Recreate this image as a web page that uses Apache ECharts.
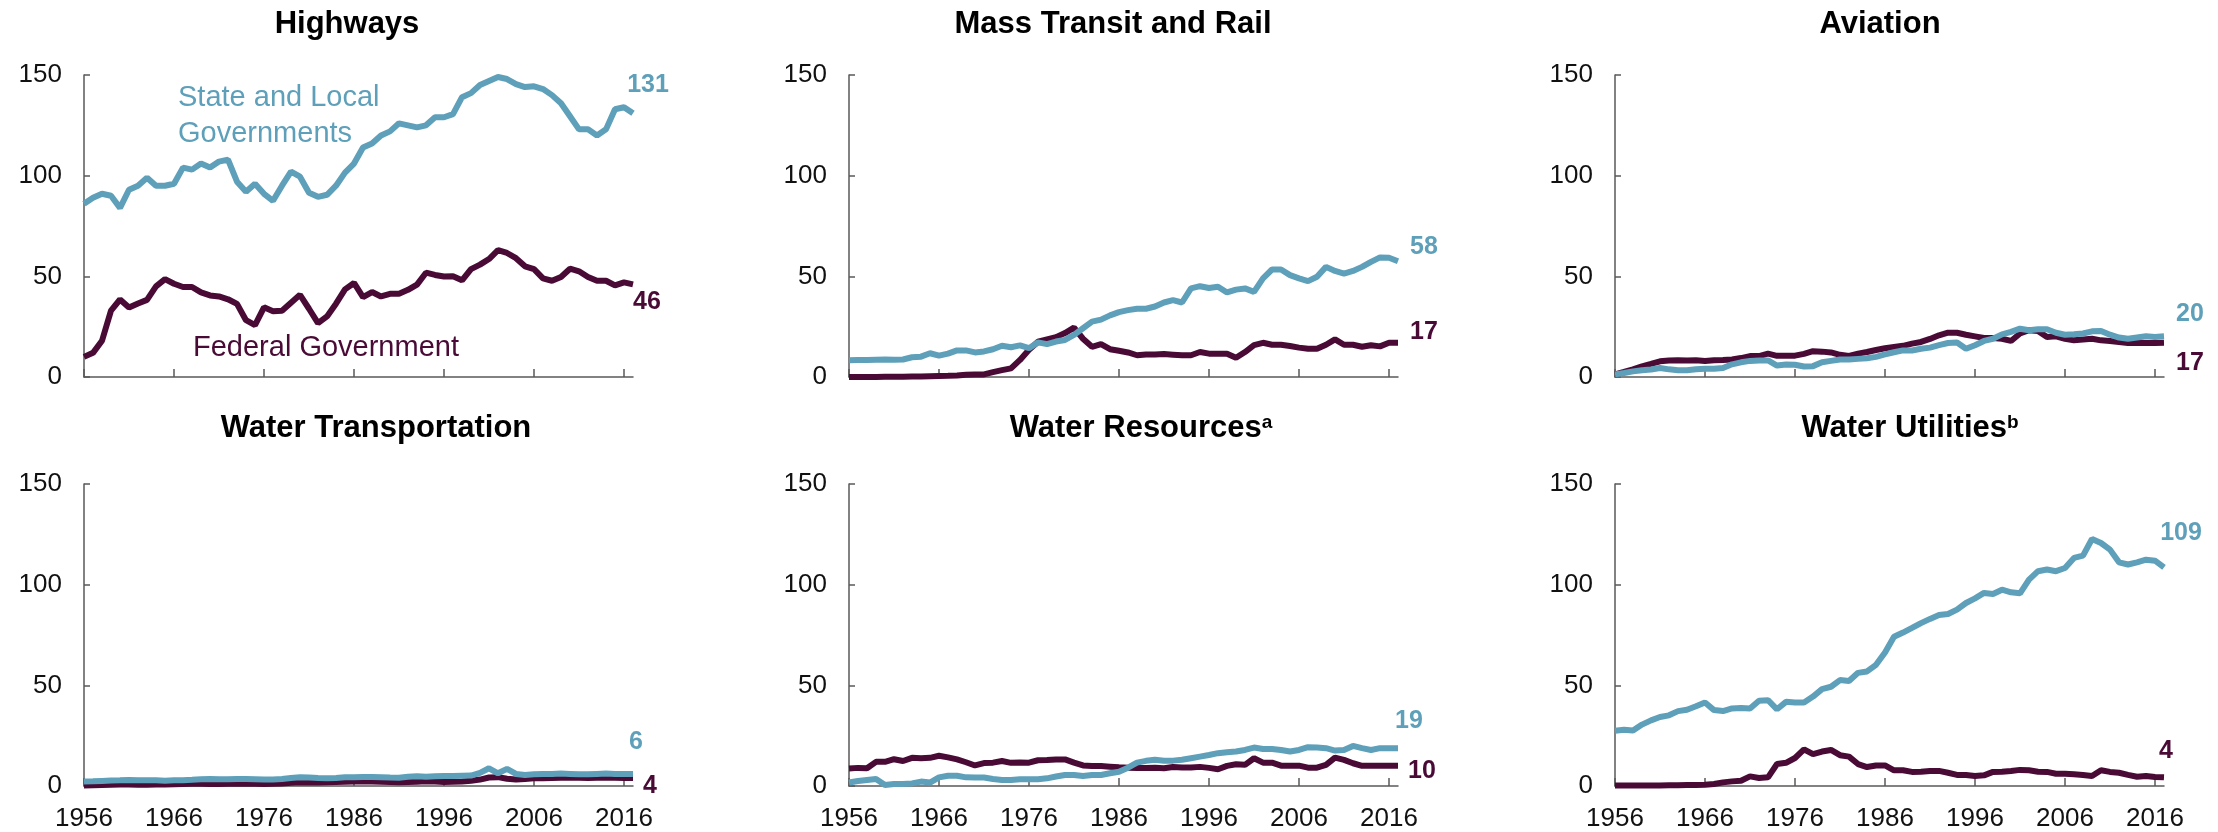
<!DOCTYPE html>
<html>
<head>
<meta charset="utf-8">
<script src="https://cdn.jsdelivr.net/npm/echarts@6/dist/echarts.min.js"></script>
<style>
html, body { margin: 0; padding: 0; background: #fff; }
#main { width: 2218px; height: 832px; }
</style>
</head>
<body>
<div id="main"></div>
<script>
// years on the x axis
var years = ['1956','1957','1958','1959','1960','1961','1962','1963','1964','1965',
             '1966','1967','1968','1969','1970','1971','1972','1973','1974','1975',
             '1976','1977','1978','1979','1980','1981','1982','1983','1984','1985',
             '1986','1987','1988','1989','1990','1991','1992','1993','1994','1995',
             '1996','1997','1998','1999','2000','2001','2002','2003','2004','2005',
             '2006','2007','2008','2009','2010','2011','2012','2013','2014','2015',
             '2016','2017'];
var yTicks = [0, 50, 100, 150];

var panelTitles = ['Highways', 'Mass Transit and Rail', 'Aviation',
                   'Water Transportation', 'Water Resources{sup|a}', 'Water Utilities{sup|b}'];

// Highways
var hwyState = [86, 89, 91, 90, 84, 93, 95, 99, 95, 95,
                96, 104, 103, 106, 104, 107, 108, 97, 92, 96,
                91, 87.5, 95, 102, 99.5, 91.5, 89.5, 90.5, 95, 101.5,
                106, 114, 116, 120, 122, 126, 125, 124, 125, 129,
                129, 130.6, 139, 141, 145, 147, 149, 148, 145.5, 144,
                144.4, 143, 140, 136, 129.5, 123, 123, 120, 123, 133,
                134, 131];
var hwyFed = [10, 12, 18, 33, 38.5, 34.5, 36.5, 38.3, 45, 48.6,
              46.3, 44.7, 44.7, 42, 40.5, 40, 38.6, 36.3, 28.2, 25.8,
              34.6, 32.7, 32.9, 36.9, 40.8, 33.9, 26.8, 30.1, 36.4, 43.5,
              46.7, 39.7, 42.2, 40, 41.3, 41.4, 43.3, 45.9, 51.8, 50.7,
              49.9, 50, 48, 53.6, 55.8, 58.6, 63, 61.6, 59, 55,
              53.6, 49, 47.8, 49.7, 53.8, 52.5, 49.7, 47.8, 47.8, 45.5,
              47, 46];

// Mass transit and rail
var transitState = [8.3, 8.4, 8.5, 8.6, 8.7, 8.6, 8.7, 9.8, 10.1, 11.8,
                    10.6, 11.6, 13.2, 13.2, 12.2, 12.7, 13.8, 15.5, 14.8, 15.7,
                    14.3, 17.2, 16.3, 17.6, 18.4, 20.9, 24.2, 27.5, 28.5, 30.6,
                    32.2, 33.2, 33.9, 33.9, 35, 37, 38.2, 37, 44, 45.1,
                    44.2, 44.8, 42, 43.4, 44, 42.3, 49, 53.4, 53.4, 50.6,
                    49, 47.6, 49.8, 54.7, 52.7, 51.4, 52.7, 54.7, 57.2, 59.4,
                    59.2, 57.5];
var transitFed = [0, 0, 0, 0, 0.1, 0.1, 0.1, 0.2, 0.3, 0.4,
                  0.5, 0.6, 0.8, 1.1, 1.3, 1.3, 2.4, 3.4, 4.3, 8.5,
                  13.5, 17.5, 18.7, 19.8, 21.8, 24.5, 19, 15, 16.3, 13.8,
                  13, 12.2, 10.8, 11.2, 11.2, 11.4, 11.1, 10.8, 10.8, 12.4,
                  11.6, 11.6, 11.6, 9.6, 12.4, 15.8, 17, 16, 16, 15.4,
                  14.6, 14, 14, 16, 18.7, 16, 16, 15, 15.8, 15.2,
                  17, 17];

// Aviation
var aviationState = [1.3, 2, 2.8, 3.4, 3.7, 4.5, 3.8, 3.4, 3.3, 3.8,
                     4.1, 4.1, 4.5, 6.3, 7.3, 8, 8.2, 8.2, 5.7, 6.2,
                     6.1, 5.2, 5.4, 7.3, 8, 8.7, 8.7, 9, 9.3, 10,
                     11.2, 12.3, 13.2, 13.2, 14, 14.6, 15.8, 16.9, 17.1, 14,
                     15.8, 17.9, 19, 21.2, 22.4, 24, 23.2, 23.7, 23.7, 22,
                     21, 21.2, 21.6, 22.7, 22.9, 21, 19.6, 19, 19.6, 20.2,
                     19.9, 20.2];
var aviationFed = [1.3, 2.5, 3.8, 5.3, 6.5, 7.8, 8.2, 8.3, 8.2, 8.3,
                   8, 8.3, 8.4, 8.7, 9.4, 10.4, 10.4, 11.6, 10.5, 10.5,
                   10.6, 11.5, 12.8, 12.6, 12.2, 11, 10.5, 11.6, 12.4, 13.4,
                   14.3, 14.9, 15.5, 16.6, 17.4, 18.9, 20.7, 22, 22, 21,
                   20.2, 19.4, 19.4, 19, 17.9, 21.6, 23.2, 22.9, 19.9, 20.2,
                   19, 18.2, 18.6, 19, 18.2, 17.9, 17.4, 16.9, 17, 16.9,
                   16.9, 17];

// Water transportation
var waterTransState = [2.2, 2.3, 2.5, 2.7, 2.8, 3.0, 2.9, 2.9, 2.8, 2.6,
                       2.8, 2.9, 3.1, 3.4, 3.5, 3.4, 3.4, 3.5, 3.5, 3.4,
                       3.2, 3.2, 3.5, 4.0, 4.3, 4.2, 4.0, 3.9, 4.0, 4.3,
                       4.4, 4.5, 4.5, 4.4, 4.2, 4.1, 4.6, 4.9, 4.6, 4.8,
                       5.0, 5.0, 5.1, 5.2, 6.5, 8.8, 6.3, 8.5, 6.0, 5.5,
                       5.8, 5.9, 6.0, 6.2, 6.0, 5.8, 5.8, 6.0, 6.2, 6.0,
                       6.0, 5.9];
var waterTransFed = [0.3, 0.4, 0.5, 0.6, 0.8, 0.7, 0.6, 0.6, 0.7, 0.8,
                     0.9, 1.0, 1.1, 1.1, 1.0, 1.0, 1.1, 1.2, 1.1, 1.1,
                     1.0, 1.1, 1.3, 1.6, 1.8, 1.9, 1.8, 1.9, 2.0, 2.1,
                     2.2, 2.2, 2.2, 2.1, 2.0, 1.9, 2.0, 2.1, 2.3, 2.2,
                     2.0, 2.1, 2.2, 2.6, 3.2, 4.2, 4.4, 3.6, 3.2, 3.5,
                     3.8, 3.9, 4.0, 4.1, 4.2, 4.1, 4.0, 4.1, 4.2, 4.1,
                     4.0, 4.0];

// Water resources
var waterResState = [1.7, 2.5, 3, 3.5, 0.5, 1, 1, 1.3, 2.2, 1.7,
                     4.3, 5.1, 5.1, 4.3, 4.2, 4.2, 3.5, 3, 3, 3.3,
                     3.3, 3.3, 3.8, 4.7, 5.5, 5.5, 5, 5.5, 5.5, 6.3,
                     7.1, 9.1, 11.6, 12.5, 13, 12.5, 12.6, 13, 13.8, 14.6,
                     15.4, 16.3, 16.8, 17.1, 17.9, 19.1, 18.4, 18.4, 17.9, 17.1,
                     17.9, 19.3, 19.1, 18.8, 17.6, 17.9, 19.9, 18.8, 17.9, 18.8,
                     18.8, 18.8];
var waterResFed = [8.7, 9, 8.8, 12, 12, 13.3, 12.4, 14, 13.8, 14,
                   15, 14.2, 13.2, 11.8, 10.2, 11.4, 11.6, 12.4, 11.5, 11.7,
                   11.6, 12.8, 12.9, 13.2, 13.2, 11.6, 10.2, 9.9, 9.9, 9.6,
                   9.3, 9.1, 9, 9, 9.1, 8.8, 9.4, 9.2, 9.2, 9.5,
                   9, 8.3, 10, 10.8, 10.5, 13.8, 11.6, 11.6, 10.1, 10.1,
                   10.1, 9.1, 9.1, 10.5, 14.1, 13, 11.3, 10, 10, 10,
                   10, 10];

// Water utilities
var waterUtilState = [27.4, 27.9, 27.6, 30.5, 32.6, 34.3, 35.1, 37.2, 37.9, 39.6,
                      41.5, 37.7, 37.2, 38.5, 38.7, 38.5, 42.3, 42.6, 38.1, 41.8,
                      41.5, 41.5, 44.4, 48.1, 49.3, 52.6, 52.2, 56.2, 56.9, 60.2,
                      66.3, 74.1, 76.2, 78.5, 80.9, 83, 84.9, 85.4, 87.6, 90.9,
                      93.2, 95.9, 95.4, 97.5, 96.2, 95.7, 102.5, 106.7, 107.5, 106.7,
                      108.3, 113.3, 114.4, 122.7, 120.7, 117.4, 111.1, 110, 111.1, 112.4,
                      111.9, 108.6];
var waterUtilFed = [0.2, 0.2, 0.3, 0.3, 0.3, 0.3, 0.4, 0.4, 0.5, 0.5,
                    0.6, 1.0, 1.8, 2.3, 2.6, 4.8, 4.0, 4.3, 10.9, 11.5,
                    13.9, 18.2, 15.8, 17.1, 17.9, 15.3, 14.6, 10.9, 9.4, 10.2,
                    10.2, 7.8, 7.8, 7, 7.1, 7.5, 7.5, 6.6, 5.5, 5.5,
                    5, 5.3, 7, 7.1, 7.5, 8, 7.8, 7.1, 7, 6.1,
                    6.1, 5.8, 5.5, 5, 7.8, 7, 6.6, 5.5, 4.6, 5,
                    4.5, 4.3];

var stateLocal = [hwyState, transitState, aviationState, waterTransState, waterResState, waterUtilState];
var federal = [hwyFed, transitFed, aviationFed, waterTransFed, waterResFed, waterUtilFed];

var BLUE = '#5e9fb9';
var DARK = '#4a0a36';
var AXIS = '#595959';
var FONT = '"Liberation Sans", Arial, sans-serif';

// layout
var colLeft = [84, 849, 1615];
var rowTop = [75, 484];
var plotW = 549, plotH = 302;
var titleX = [347, 1113, 1880, 376, 1141, 1910];
var titleY = [9, 9, 9, 413, 413, 413];
// offsets of the end labels from the last point: [state/local, federal]
var labelOff = [
    [[15, -28], [14, 18]],
    [[26, -14], [26, -11]],
    [[26, -22], [26, 20]],
    [[3, -32], [17, 8]],
    [[11, -27], [24, 5]],
    [[17, -34], [2, -26]]
];

var grids = [], xAxes = [], yAxes = [], series = [], graphics = [];

function endMark(arr, color, off) {
    var last = arr.length - 1;
    return {
        symbol: 'circle',
        symbolSize: 1,
        itemStyle: { color: 'rgba(0,0,0,0)' },
        label: {
            show: true,
            position: 'inside',
            offset: off,
            fontSize: 25,
            fontWeight: 'bold',
            fontFamily: FONT,
            color: color,
            formatter: function () { return String(Math.round(arr[last])); }
        },
        data: [{ coord: [years[last], arr[last]] }]
    };
}

for (var i = 0; i < 6; i++) {
    var row = Math.floor(i / 3), col = i % 3;
    grids.push({ left: colLeft[col], top: rowTop[row], width: plotW, height: plotH + row, containLabel: false });
    xAxes.push({
        gridIndex: i,
        type: 'category',
        data: years,
        boundaryGap: false,
        axisLine: { lineStyle: { color: AXIS, width: 1.5 } },
        axisTick: { inside: true, length: 8, interval: 9, lineStyle: { color: AXIS, width: 1.5 } },
        axisLabel: { show: row === 1, interval: 9, fontSize: 26, fontFamily: FONT, color: '#111', margin: 20 },
        splitLine: { show: false }
    });
    yAxes.push({
        gridIndex: i,
        type: 'value',
        min: yTicks[0],
        max: yTicks[yTicks.length - 1],
        interval: yTicks[1] - yTicks[0],
        axisLine: { show: true, lineStyle: { color: AXIS, width: 1.5 } },
        axisTick: { show: true, inside: true, length: 6, lineStyle: { color: AXIS, width: 1.5 } },
        axisLabel: { fontSize: 26, fontFamily: FONT, color: '#111', margin: 22 },
        splitLine: { show: false }
    });
    series.push({
        type: 'line',
        xAxisIndex: i,
        yAxisIndex: i,
        data: federal[i],
        symbol: 'none',
        lineStyle: { color: DARK, width: 6 },
        markPoint: endMark(federal[i], DARK, labelOff[i][1]),
        z: 2
    });
    series.push({
        type: 'line',
        xAxisIndex: i,
        yAxisIndex: i,
        data: stateLocal[i],
        symbol: 'none',
        lineStyle: { color: BLUE, width: 6 },
        markPoint: endMark(stateLocal[i], BLUE, labelOff[i][0]),
        z: 3
    });
    graphics.push({
        type: 'text',
        x: titleX[i],
        y: titleY[i],
        style: {
            text: panelTitles[i],
            textAlign: 'center',
            textVerticalAlign: 'top',
            font: 'bold 31px ' + FONT,
            fill: '#000',
            rich: { sup: { fontSize: 19, fontWeight: 'bold', fontFamily: FONT, fill: '#000', verticalAlign: 'top' } }
        }
    });
}

// line names inside the Highways panel
graphics.push({
    type: 'text', left: 178, top: 80,
    style: { text: 'State and Local\nGovernments', font: '29px ' + FONT, fill: BLUE, lineHeight: 36 }
});
graphics.push({
    type: 'text', left: 193, top: 333,
    style: { text: 'Federal Government', font: '29px ' + FONT, fill: DARK }
});

var myChart = echarts.init(document.getElementById('main'));
var option = {
    animation: false,
    backgroundColor: '#fff',
    grid: grids,
    xAxis: xAxes,
    yAxis: yAxes,
    series: series,
    graphic: graphics
};
myChart.setOption(option);
</script>
</body>
</html>
